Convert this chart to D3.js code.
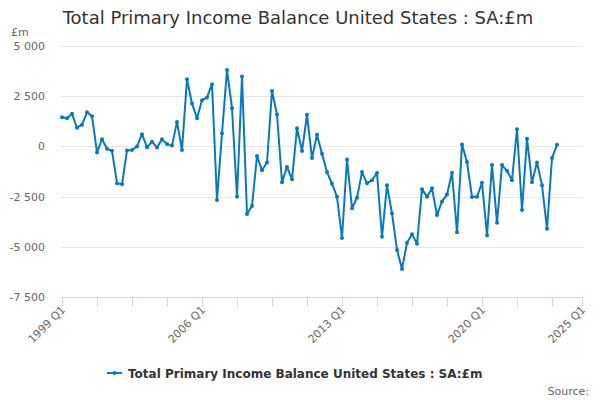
<!DOCTYPE html>
<html>
<head>
<meta charset="UTF-8">
<script src="https://cdn.jsdelivr.net/npm/d3@7"></script>
<title>Total Primary Income Balance United States</title>
<style type="text/css">
	body{
		margin: 0;
		background: #fff;
		font-family: "DejaVu Sans", sans-serif;
	}
</style>
</head>
<body>
	<div id="chartContainer"></div>

	<script type="text/javascript">
		// quarterly series, first point 1999 Q1
		var startYear = 1999;
		var values = [
			1450, 1400, 1620, 930, 1080, 1700, 1500, -300, 360, -120,
			-220, -1830, -1890, -200, -180, 0, 610, -40, 230, -50,
			350, 115, 40, 1220, -180, 3350, 2140, 1400, 2300, 2440,
			3100, -2670, 650, 3800, 1900, -2510, 3480, -3370, -2970, -480,
			-1190, -800, 2760, 1590, -1780, -1020, -1640, 900, -230, 1570,
			-580, 580, -370, -1280, -1860, -2510, -4560, -650, -3080, -2560,
			-1280, -1840, -1680, -1330, -4500, -1940, -3340, -5160, -6100, -4800,
			-4370, -4850, -2130, -2510, -2090, -3420, -2740, -2400, -1315, -4280,
			100, -780, -2520, -2510, -1810, -4420, -930, -3800, -930, -1215,
			-1680, 860, -3170, 380, -1780, -800, -1930, -4100, -580, 80
		];
		var quarters = values.map(function(v, i){
			return (startYear + Math.floor(i / 4)) + " Q" + (i % 4 + 1);
		});
		var tickLabels = ["1999 Q1", "2006 Q1", "2013 Q1", "2020 Q1", "2025 Q1"];
		var yTicks = [5000, 2500, 0, -2500, -5000, -7500];
		var seriesName = "Total Primary Income Balance United States : SA:£m";
		var titleText = "Total Primary Income Balance United States : SA:£m";

		var blue = "#0a78be";
		var W = 600, H = 400;

		var svg = d3.select("#chartContainer").append("svg")
			.attr("width", W).attr("height", H)
			.style("font-family", "'DejaVu Sans', sans-serif");

		// quarter index of a "YYYY Qn" label
		function qIndex(label){
			var p = label.split(" Q");
			return (+p[0] - startYear) * 4 + (+p[1] - 1);
		}

		var x = d3.scaleLinear().domain([0, qIndex("2025 Q1")]).range([62, 582]);
		var y = d3.scaleLinear().domain([-7500, 5000]).range([297, 46]);

		var loc = d3.formatLocale({decimal: ".", thousands: " ", grouping: [3], currency: ["£", ""], minus: "-"});
		var fmt = loc.format(",");

		// gridlines
		svg.append("g").selectAll("line").data(yTicks.filter(function(d){ return d !== -7500; }))
			.enter().append("line")
			.attr("x1", 61).attr("x2", 583)
			.attr("y1", function(d){ return Math.round(y(d)) + 0.5; })
			.attr("y2", function(d){ return Math.round(y(d)) + 0.5; })
			.attr("stroke", "#e6e6e6").attr("stroke-width", 1);

		// y labels
		svg.append("g").selectAll("text").data(yTicks)
			.enter().append("text")
			.attr("x", 45).attr("y", function(d){ return y(d) + 4; })
			.attr("text-anchor", "end")
			.attr("font-size", "11px").attr("fill", "#666")
			.text(function(d){ return fmt(d); });

		svg.append("text").attr("x", 11).attr("y", 36)
			.attr("font-size", "11px").attr("fill", "#666").text("£m");

		// x axis
		var axisY = Math.round(y(-7500)) + 0.5;
		svg.append("line").attr("x1", 61).attr("x2", 583)
			.attr("y1", axisY).attr("y2", axisY)
			.attr("stroke", "#ccd6eb").attr("stroke-width", 1);

		var tickPos = d3.range(0, values.length, 7).concat([qIndex("2025 Q1")]);
		svg.append("g").selectAll("line").data(tickPos)
			.enter().append("line")
			.attr("x1", function(d){ return Math.round(x(d)) + 0.5; })
			.attr("x2", function(d){ return Math.round(x(d)) + 0.5; })
			.attr("y1", axisY).attr("y2", axisY + 9)
			.attr("stroke", "#ccd6eb").attr("stroke-width", 1);

		svg.append("g").selectAll("text").data(tickLabels)
			.enter().append("text")
			.attr("transform", function(d){ return "translate(" + (x(qIndex(d)) + 4) + "," + (axisY + 13) + ") rotate(-45)"; })
			.attr("text-anchor", "end")
			.attr("font-size", "11px").attr("fill", "#666")
			.text(function(d){ return d; });

		// series
		var line = d3.line()
			.x(function(d, i){ return x(i); })
			.y(function(d){ return y(d); });

		svg.append("path").datum(values)
			.attr("d", line)
			.attr("fill", "none")
			.attr("stroke", blue).attr("stroke-width", 2)
			.attr("stroke-linejoin", "round");

		svg.append("g").selectAll("circle").data(values)
			.enter().append("circle")
			.attr("cx", function(d, i){ return x(i); })
			.attr("cy", function(d){ return y(d); })
			.attr("r", 2)
			.attr("fill", blue)
			.append("title").text(function(d, i){ return quarters[i] + ": " + fmt(d); });

		// title
		svg.append("text").attr("x", 298).attr("y", 24)
			.attr("text-anchor", "middle")
			.attr("font-size", "18px").attr("fill", "#333")
			.text(titleText);

		// legend
		var leg = svg.append("g").attr("transform", "translate(107,373)");
		leg.append("line").attr("x1", 0).attr("x2", 15).attr("y1", 0).attr("y2", 0)
			.attr("stroke", blue).attr("stroke-width", 2);
		leg.append("circle").attr("cx", 7.5).attr("cy", 0).attr("r", 2).attr("fill", blue);
		leg.append("text").attr("x", 21).attr("y", 4.5)
			.attr("font-size", "12px").attr("font-weight", "bold").attr("fill", "#333")
			.text(seriesName);

		svg.append("text").attr("x", 589).attr("y", 395)
			.attr("text-anchor", "end")
			.attr("font-size", "11px").attr("fill", "#666")
			.text("Source:");
	</script>
</body>
</html>
